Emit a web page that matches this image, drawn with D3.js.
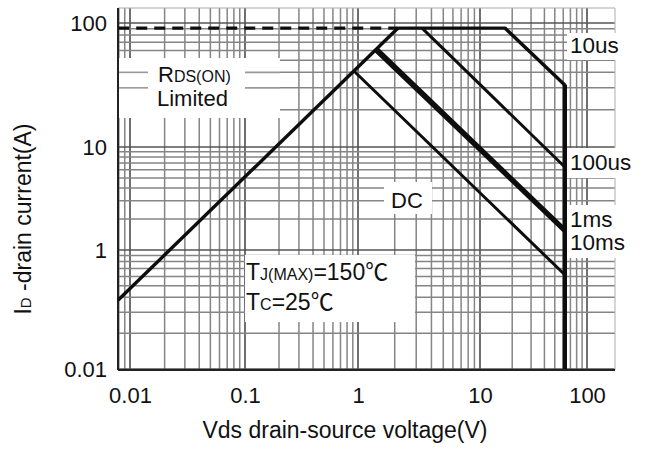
<!DOCTYPE html>
<html>
<head>
<meta charset="utf-8">
<script src="https://cdn.jsdelivr.net/npm/d3@7"></script>
<style>
  body { margin: 0; background: #fff; }
  text { font-family: Arial, "Liberation Sans", "Noto Sans CJK SC", sans-serif; fill: #111; }
</style>
</head>
<body>
<svg id="chart" width="646" height="450"></svg>
<script>

// axis ticks (the sheet prints "0.01" on the bottom decade line)
var xTicks = [0.01, 0.1, 1, 10, 100],
    xTickLabels = ["0.01", "0.1", "1", "10", "100"];
var yTicks = [0.1, 1, 10, 100],
    yTickLabels = ["0.01", "1", "10", "100"];

// SOA boundaries, [Vds (V), Id (A)]
var rdsLimit   = [[0.0079, 0.38], [2.13, 91]];
var pulseLimit = [[0.0079, 91], [2.13, 91]];
var limit10us  = [[2.13, 91], [17.1, 91], [62, 31.6], [62, 0.1]];
var limit100us = [[3.35, 91], [62, 6.4]];
var limit1ms   = [[1.43, 62.3], [62, 1.60]];
var limit10ms  = [[1.38, 60.1], [62, 1.50]];
var limitDC    = [[0.92, 41], [62, 0.62]];

var svg = d3.select("#chart");

var plotLeft = 118, plotRight = 615, plotTop = 8, plotBottom = 370;

// the scanned sheet has uneven decades, so piecewise log scales
var x = d3.scaleLog()
    .domain(xTicks)
    .range([130, 245, 358, 480, 587]);
var y = d3.scaleLog()
    .domain(yTicks)
    .range([369, 250, 147, 23]);

var xMin = x.invert(plotLeft), xMax = x.invert(plotRight),
    yMin = y.invert(plotBottom), yMax = y.invert(plotTop);

var defs = svg.append("defs");
defs.append("filter").attr("id", "soft")
    .attr("filterUnits", "userSpaceOnUse")
    .attr("x", 0).attr("y", 0).attr("width", 646).attr("height", 450)
  .append("feGaussianBlur").attr("stdDeviation", 0.55);
defs.append("filter").attr("id", "softer")
    .attr("filterUnits", "userSpaceOnUse")
    .attr("x", 0).attr("y", 0).attr("width", 646).attr("height", 450)
  .append("feGaussianBlur").attr("stdDeviation", 0.35);

// log grid
function logLines(lo, hi) {
  var out = [];
  for (var e = -3; e <= 3; e++) {
    for (var k = 1; k <= 9; k++) {
      var v = k * Math.pow(10, e);
      if (v >= lo && v <= hi) out.push({v: v, major: k === 1});
    }
  }
  return out;
}

var grid = svg.append("g").attr("filter", "url(#soft)");

grid.selectAll(".vx").data(logLines(xMin, xMax)).enter().append("line")
    .attr("x1", function(d) { return x(d.v); })
    .attr("x2", function(d) { return x(d.v); })
    .attr("y1", plotTop).attr("y2", plotBottom)
    .attr("stroke", function(d) { return d.major ? "#555" : "#858585"; })
    .attr("stroke-width", function(d) { return d.major ? 1.7 : 1.5; });

grid.selectAll(".hy").data(logLines(yMin, yMax)).enter().append("line")
    .attr("y1", function(d) { return y(d.v); })
    .attr("y2", function(d) { return y(d.v); })
    .attr("x1", plotLeft).attr("x2", plotRight)
    .attr("stroke", function(d) { return d.major ? "#555" : "#858585"; })
    .attr("stroke-width", function(d) { return d.major ? 1.7 : 1.5; });

grid.append("line").attr("x1", plotLeft).attr("x2", plotRight)
    .attr("y1", plotTop).attr("y2", plotTop)
    .attr("stroke", "#aaa").attr("stroke-width", 1.2);
grid.append("line").attr("x1", plotRight).attr("x2", plotRight)
    .attr("y1", plotTop).attr("y2", plotBottom)
    .attr("stroke", "#bbb").attr("stroke-width", 1.2);

// blank patches of the scan behind the notes
var masks = [
  [119, 58, 161, 60],
  [245, 255, 170, 67],
  [384, 182, 48, 32],
  [567, 33, 79, 27],
  [567, 148, 79, 30],
  [567, 205, 79, 53]
];
svg.selectAll(".mask").data(masks).enter().append("rect")
    .attr("x", function(d) { return d[0]; })
    .attr("y", function(d) { return d[1]; })
    .attr("width", function(d) { return d[2]; })
    .attr("height", function(d) { return d[3]; })
    .attr("fill", "#fff");

// two grid rows that run past the RDS(ON) note in the scan
[30, 40].forEach(function(v) {
  [[plotLeft, 148], [245, 280]].forEach(function(seg) {
    svg.append("line").attr("filter", "url(#soft)")
        .attr("x1", seg[0]).attr("x2", seg[1])
        .attr("y1", y(v)).attr("y2", y(v))
        .attr("stroke", "#999").attr("stroke-width", 1.6);
  });
});

// axis frame
svg.append("line").attr("x1", plotLeft).attr("x2", plotLeft)
    .attr("y1", plotTop).attr("y2", plotBottom)
    .attr("stroke", "#222").attr("stroke-width", 2);
svg.append("line").attr("x1", plotLeft).attr("x2", plotRight)
    .attr("y1", plotBottom).attr("y2", plotBottom)
    .attr("stroke", "#222").attr("stroke-width", 2);

// SOA lines
var line = d3.line()
    .x(function(d) { return x(d[0]); })
    .y(function(d) { return y(d[1]); });

var curves = svg.append("g").attr("filter", "url(#softer)")
    .attr("fill", "none").attr("stroke", "#111")
    .attr("stroke-linejoin", "round");

curves.append("path").datum(pulseLimit).attr("d", line)
    .attr("stroke-width", 3.2).attr("stroke-dasharray", "11,7");
curves.append("path").datum(rdsLimit).attr("d", line).attr("stroke-width", 3.4);
curves.append("path").datum(limit10us).attr("d", line).attr("stroke-width", 3.4);
curves.append("path").datum(limit100us).attr("d", line).attr("stroke-width", 3);
curves.append("path").datum(limit1ms).attr("d", line).attr("stroke-width", 3.2);
curves.append("path").datum(limit10ms).attr("d", line).attr("stroke-width", 3.2);
curves.append("path").datum(limitDC).attr("d", line).attr("stroke-width", 3);
// heavier drain-voltage edge
curves.append("path").datum(limit10us.slice(2)).attr("d", line).attr("stroke-width", 4.4);

// axes
var xAxis = d3.axisBottom(x)
    .tickValues(xTicks)
    .tickFormat(function(d, i) { return xTickLabels[i]; })
    .tickSize(0).tickPadding(17);
var gx = svg.append("g").attr("transform", "translate(0," + plotBottom + ")").call(xAxis);

var yAxis = d3.axisLeft(y)
    .tickValues(yTicks)
    .tickFormat(function(d, i) { return yTickLabels[i]; })
    .tickSize(0).tickPadding(11);
var gy = svg.append("g").attr("transform", "translate(" + plotLeft + ",0)").call(yAxis);

[gx, gy].forEach(function(g) {
  g.select(".domain").remove();
  g.selectAll("text").attr("font-size", 22).attr("fill", "#111")
    .attr("font-family", "Arial, 'Liberation Sans', sans-serif");
});

// titles
svg.append("text").attr("x", 345).attr("y", 438)
    .attr("text-anchor", "middle").attr("font-size", 23)
    .text("Vds drain-source voltage(V)");

var yt = svg.append("text")
    .attr("transform", "translate(31,219) rotate(-90)")
    .attr("text-anchor", "middle").attr("font-size", 23);
yt.append("tspan").text("I");
yt.append("tspan").attr("font-size", 15).text("D");
yt.append("tspan").text(" -drain current(A)");

// notes
var r = svg.append("text").attr("x", 158).attr("y", 82).attr("font-size", 22);
r.append("tspan").text("R");
r.append("tspan").attr("font-size", 16).text("DS(ON)");
svg.append("text").attr("x", 157).attr("y", 106).attr("font-size", 22).text("Limited");

var tj = svg.append("text").attr("x", 246).attr("y", 280).attr("font-size", 23);
tj.append("tspan").text("T");
tj.append("tspan").attr("font-size", 16).text("J(MAX)");
tj.append("tspan").text("=150℃");

var tc = svg.append("text").attr("x", 246).attr("y", 310).attr("font-size", 23);
tc.append("tspan").text("T");
tc.append("tspan").attr("font-size", 16).text("C");
tc.append("tspan").text("=25℃");

svg.append("text").attr("x", 391).attr("y", 208).attr("font-size", 22).text("DC");

var sideNotes = [["10us", 53], ["100us", 170], ["1ms", 227], ["10ms", 250]];
svg.selectAll(".side").data(sideNotes).enter().append("text")
    .attr("x", 570)
    .attr("y", function(d) { return d[1]; })
    .attr("font-size", 22.5)
    .text(function(d) { return d[0]; });

</script>
</body>
</html>
